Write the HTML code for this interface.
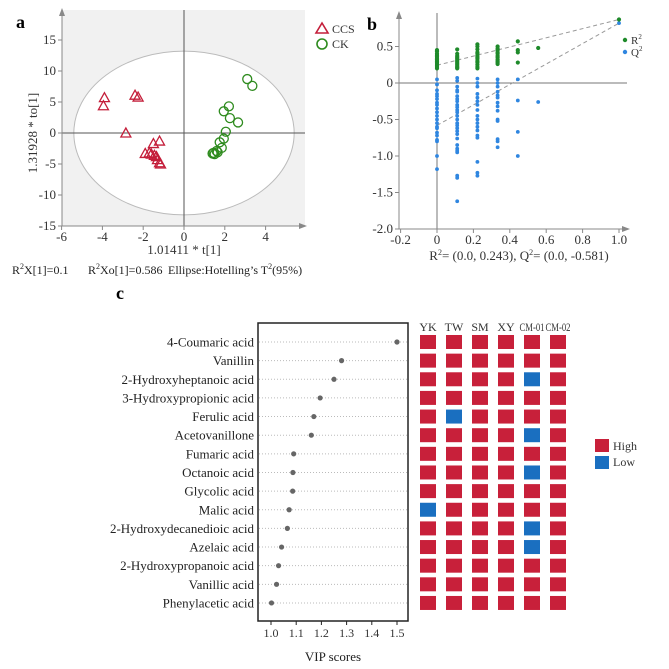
<!DOCTYPE html>
<html><head><meta charset="utf-8"><style>
body{margin:0;background:#fff;}
svg{display:block;font-family:"Liberation Serif",serif;}
</style></head><body>
<svg id="fig" width="669" height="669" viewBox="0 0 669 669">
<g id="pa">
<text x="16" y="28" font-size="18" font-weight="bold">a</text>
<rect x="62" y="10" width="243" height="216" fill="#f1f1f1"/>
</g>
<g id="pb">
<text x="367" y="30" font-size="18" font-weight="bold">b</text>
</g>
<g id="pc">
<text x="116" y="299" font-size="18" font-weight="bold">c</text>
</g>
</svg>
<script>
const NS='http://www.w3.org/2000/svg';
function mk(p,t,a,txt){const e=document.createElementNS(NS,t);for(const k in a)e.setAttribute(k,a[k]);if(txt!==undefined)e.textContent=txt;p.appendChild(e);return e;}

// ---- Panel a data ----
const ccsX=[-3.9,-3.95,-2.4,-2.25,-2.85,-1.2,-1.5,-1.9,-1.7,-1.6,-1.35,-1.3,-1.2,-1.15,-1.45];
const ccsY=[5.7,4.4,6.1,5.8,0,-1.3,-1.7,-3.3,-3.2,-3.4,-3.8,-4.3,-4.8,-5.0,-3.6];
const ckX=[3.1,3.35,2.2,1.95,2.25,2.65,2.05,1.95,1.75,1.85,1.6,1.45,1.4,1.65,1.5];
const ckY=[8.7,7.6,4.3,3.5,2.4,1.7,0.2,-0.9,-1.5,-2.4,-2.9,-3.2,-3.3,-3.1,-3.4];
const aXTicks=[-6,-4,-2,0,2,4];
const aYTicks=[15,10,5,0,-5,-10,-15];

// ---- Panel b data ----
const permX=[0,0.111,0.222,0.333,0.444,0.556,1.0];
const r2Vals=[[0.45,0.43,0.40,0.38,0.36,0.34,0.32,0.30,0.28,0.26,0.24,0.22,0.20],
[0.46,0.40,0.37,0.35,0.33,0.31,0.29,0.27,0.25,0.23,0.21,0.20],
[0.53,0.50,0.46,0.42,0.40,0.37,0.35,0.33,0.30,0.28,0.25,0.22,0.20],
[0.50,0.47,0.45,0.42,0.40,0.37,0.35,0.32,0.30,0.28,0.26],
[0.57,0.45,0.42,0.28],[0.48],[0.87]];
const q2Vals=[[0.05,-0.02,-0.10,-0.15,-0.18,-0.22,-0.27,-0.30,-0.35,-0.40,-0.45,-0.50,-0.55,-0.60,-0.62,-0.68,-0.72,-0.78,-0.80,-1.0,-1.18],
[0.07,0.03,-0.05,-0.10,-0.12,-0.18,-0.22,-0.25,-0.30,-0.33,-0.37,-0.40,-0.45,-0.50,-0.55,-0.58,-0.62,-0.66,-0.70,-0.76,-0.85,-0.90,-0.93,-0.95,-1.27,-1.30,-1.62],
[0.06,0.0,-0.05,-0.15,-0.20,-0.25,-0.30,-0.37,-0.45,-0.50,-0.55,-0.60,-0.65,-0.72,-0.75,-1.08,-1.23,-1.27],
[0.05,0.0,-0.05,-0.12,-0.17,-0.20,-0.27,-0.32,-0.38,-0.50,-0.52,-0.77,-0.80,-0.88],
[0.05,-0.24,-0.67,-1.0],[-0.26],[0.82]];
const r2Line=[0.243,0.87];
const q2Line=[-0.581,0.82];
const bXTicks=[-0.2,0,0.2,0.4,0.6,0.8,1.0];
const bXLabels=['-0.2','0','0.2','0.4','0.6','0.8','1.0'];
const bYTicks=[0.5,0,-0.5,-1.0,-1.5,-2.0];
const bYLabels=['0.5','0','-0.5','-1.0','-1.5','-2.0'];

// ---- Panel c data ----
const compounds=['4-Coumaric acid','Vanillin','2-Hydroxyheptanoic acid','3-Hydroxypropionic acid','Ferulic acid','Acetovanillone','Fumaric acid','Octanoic acid','Glycolic acid','Malic acid','2-Hydroxydecanedioic acid','Azelaic acid','2-Hydroxypropanoic acid','Vanillic acid','Phenylacetic acid'];
const vip=[1.50,1.28,1.25,1.195,1.17,1.16,1.09,1.087,1.086,1.072,1.065,1.042,1.03,1.022,1.002];
const cXTicks=[1.0,1.1,1.2,1.3,1.4,1.5];
const cXLabels=['1.0','1.1','1.2','1.3','1.4','1.5'];
const sites=['YK','TW','SM','XY','CM-01','CM-02'];
const levels=[
'HHHHHH','HHHHHH','HHHHLH','HHHHHH','HLHHHH','HHHHLH','HHHHHH','HHHHLH',
'HHHHHH','LHHHHH','HHHHLH','HHHHLH','HHHHHH','HHHHHH','HHHHHH'];

// ===== panel a =====
const pa=document.getElementById('pa');
const ax=v=>184+v*20.4, ay=v=>133-v*6.2;
mk(pa,'ellipse',{cx:ax(0),cy:ay(0),rx:5.4*20.4,ry:13.2*6.2,fill:'#fff',stroke:'#bbb','stroke-width':1,});
mk(pa,'line',{x1:ax(0),y1:10,x2:ax(0),y2:226,stroke:'#555','stroke-width':1,});
mk(pa,'line',{x1:62,y1:ay(0),x2:305,y2:ay(0),stroke:'#555','stroke-width':1,});
mk(pa,'line',{x1:62,y1:226,x2:62,y2:10,stroke:'#888',});
mk(pa,'line',{x1:62,y1:226,x2:305,y2:226,stroke:'#888',});
mk(pa,'path',{d:'M59,16 L62,8 L65,16Z',fill:'#888',});
mk(pa,'path',{d:'M299,223 L307,226 L299,229Z',fill:'#888',});
aXTicks.forEach(t=>{mk(pa,'line',{x1:ax(t),y1:226,x2:ax(t),y2:230,stroke:'#888'});
 const e=mk(pa,'text',{x:ax(t),y:241,'font-size':13,'text-anchor':'middle',fill:'#333'},String(t));
 });
aYTicks.forEach(t=>{mk(pa,'line',{x1:58,y1:ay(t),x2:62,y2:ay(t),stroke:'#888'});
 const e=mk(pa,'text',{x:56,y:ay(t)+4,'font-size':13,'text-anchor':'end',fill:'#333'},String(t));
 });
ccsX.forEach((x,i)=>{const cx=ax(x),cy=ay(ccsY[i]);
 const e=mk(pa,'path',{d:`M${cx},${cy-5} L${cx+5},${cy+4} L${cx-5},${cy+4}Z`,fill:'none',stroke:'#c41e3a','stroke-width':1.3});
 });
ckX.forEach((x,i)=>{const e=mk(pa,'circle',{cx:ax(x),cy:ay(ckY[i]),r:4.5,fill:'none',stroke:'#2e8b1e','stroke-width':1.3});
 });
mk(pa,'text',{x:184,y:254,'font-size':13,'text-anchor':'middle',fill:'#333',},'1.01411 * t[1]');
mk(pa,'text',{x:0,y:0,'font-size':13,'text-anchor':'middle',fill:'#333',transform:'translate(37,133) rotate(-90)',},'1.31928 * to[1]');
mk(pa,'path',{d:'M322,23 L328,33 L316,33Z',fill:'none',stroke:'#c41e3a','stroke-width':1.6,});
mk(pa,'text',{x:332,y:33,'font-size':12,fill:'#333',},'CCS');
mk(pa,'circle',{cx:322,cy:44,r:5,fill:'none',stroke:'#2e8b1e','stroke-width':1.6,});
mk(pa,'text',{x:332,y:48,'font-size':12,fill:'#333',},'CK');
const st=mk(pa,'text',{x:12,y:274,'font-size':12,fill:'#222',});
st.innerHTML='R<tspan dy="-5" font-size="8">2</tspan><tspan dy="5">X[1]=0.1</tspan><tspan x="88">R</tspan><tspan dy="-5" font-size="8">2</tspan><tspan dy="5">Xo[1]=0.586</tspan><tspan x="168">Ellipse:Hotelling’s T</tspan><tspan dy="-5" font-size="8">2</tspan><tspan dy="5">(95%)</tspan>';

// ===== panel b =====
const pb=document.getElementById('pb');
const bx=v=>437+v*182, by=v=>83-v*73;
mk(pb,'line',{x1:bx(0),y1:13,x2:bx(0),y2:229,stroke:'#777',});
mk(pb,'line',{x1:399,y1:by(0),x2:627,y2:by(0),stroke:'#777',});
mk(pb,'line',{x1:399,y1:229,x2:399,y2:13,stroke:'#888',});
mk(pb,'line',{x1:399,y1:229,x2:627,y2:229,stroke:'#888',});
mk(pb,'path',{d:'M396,19 L399,11 L402,19Z',fill:'#888'});
mk(pb,'path',{d:'M622,226 L630,229 L622,232Z',fill:'#888'});
bXTicks.forEach((t,i)=>{mk(pb,'line',{x1:bx(t),y1:229,x2:bx(t),y2:233,stroke:'#888'});
 const e=mk(pb,'text',{x:bx(t),y:244,'font-size':13,'text-anchor':'middle',fill:'#333'},bXLabels[i]);
 });
bYTicks.forEach((t,i)=>{mk(pb,'line',{x1:395,y1:by(t),x2:399,y2:by(t),stroke:'#888'});
 const e=mk(pb,'text',{x:393,y:by(t)+4,'font-size':13,'text-anchor':'end',fill:'#333'},bYLabels[i]);
 });
mk(pb,'line',{x1:bx(0),y1:by(r2Line[0]),x2:bx(1),y2:by(r2Line[1]),stroke:'#999','stroke-dasharray':'4,3',});
mk(pb,'line',{x1:bx(0),y1:by(q2Line[0]),x2:bx(1),y2:by(q2Line[1]),stroke:'#999','stroke-dasharray':'4,3',});
permX.forEach((x,i)=>{
 q2Vals[i].forEach(v=>{const e=mk(pb,'circle',{cx:bx(x),cy:by(v),r:1.9,fill:'#2f86e0'});
  });
 r2Vals[i].forEach(v=>{const e=mk(pb,'circle',{cx:bx(x),cy:by(v),r:2.1,fill:'#1e8a2a'});
  });
});
mk(pb,'circle',{cx:625,cy:40,r:2.2,fill:'#1e8a2a',});
const lr=mk(pb,'text',{x:631,y:44,'font-size':11,fill:'#333',});lr.innerHTML='R<tspan dy="-5" font-size="7">2</tspan>';
mk(pb,'circle',{cx:625,cy:52,r:2.2,fill:'#2f86e0',});
const lq=mk(pb,'text',{x:631,y:56,'font-size':11,fill:'#333',});lq.innerHTML='Q<tspan dy="-5" font-size="7">2</tspan>';
const bt=mk(pb,'text',{x:519,y:260,'font-size':13,'text-anchor':'middle',fill:'#333',});
bt.innerHTML='R<tspan dy="-5" font-size="8">2</tspan><tspan dy="5">= (0.0, 0.243), Q</tspan><tspan dy="-5" font-size="8">2</tspan><tspan dy="5">= (0.0, -0.581)</tspan>';

// ===== panel c =====
const pc=document.getElementById('pc');
const cx=v=>271+(v-1)*252, cy=i=>342+i*18.64;
mk(pc,'rect',{x:258,y:323,width:150,height:298,fill:'none',stroke:'#222','stroke-width':1.5,});
compounds.forEach((c,i)=>{
 mk(pc,'line',{x1:259,y1:cy(i),x2:407,y2:cy(i),stroke:'#bbb','stroke-dasharray':'1,2'});
 const t=mk(pc,'text',{x:254,y:cy(i)+4.5,'font-size':13,'text-anchor':'end',fill:'#222'},c);
 
 const d=mk(pc,'circle',{cx:cx(vip[i]),cy:cy(i),r:2.6,fill:'#666'});
 
 sites.forEach((s,j)=>{const r=mk(pc,'rect',{x:420+j*26,y:cy(i)-7,width:16,height:14,fill:levels[i][j]==='L'?'#1a6fc0':'#c8203a'});
  });
});
cXTicks.forEach((t,i)=>{mk(pc,'line',{x1:cx(t),y1:621,x2:cx(t),y2:625,stroke:'#222'});
 const e=mk(pc,'text',{x:cx(t),y:637,'font-size':12,'text-anchor':'middle',fill:'#333'},cXLabels[i]);
 });
mk(pc,'text',{x:333,y:661,'font-size':13,'text-anchor':'middle',fill:'#222',},'VIP scores');
sites.forEach((s,j)=>{const a={x:428+j*26,y:331,'font-size':12,'text-anchor':'middle',fill:'#333'};
 if(s.length>3){a.textLength=25;a.lengthAdjust='spacingAndGlyphs';}
 const e=mk(pc,'text',a,s);
 });
mk(pc,'rect',{x:595,y:439,width:14,height:13,fill:'#c8203a',});
mk(pc,'text',{x:613,y:450,'font-size':12,fill:'#333',},'High');
mk(pc,'rect',{x:595,y:456,width:14,height:13,fill:'#1a6fc0',});
mk(pc,'text',{x:613,y:466,'font-size':12,fill:'#333',},'Low');
</script>
</body></html>
